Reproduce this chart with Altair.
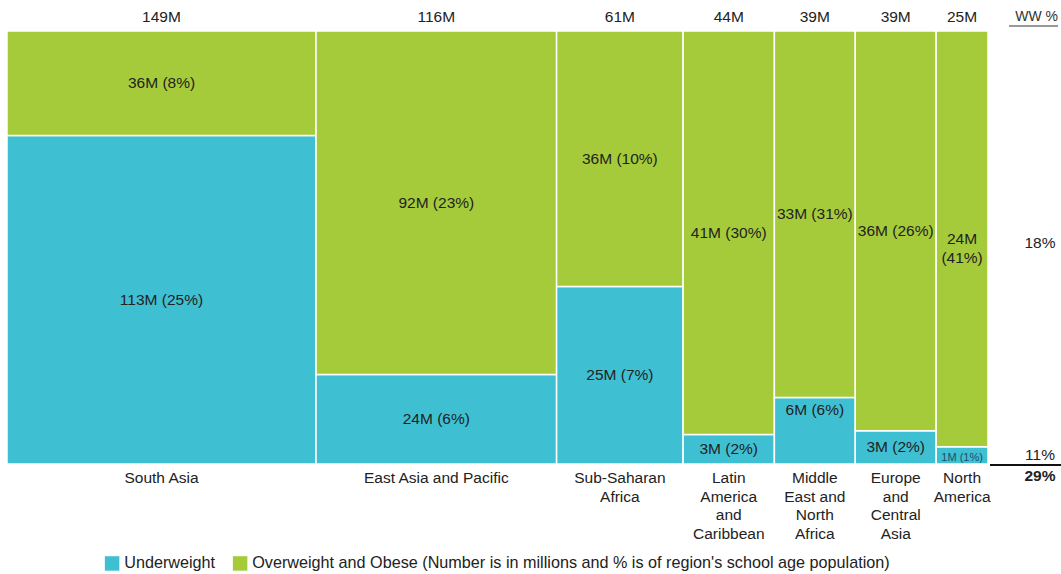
import altair as alt
import pandas as pd

regions = ["South Asia", "East Asia and Pacific", "Sub-Saharan Africa",
           "Latin America and Caribbean", "Middle East and North Africa",
           "Europe and Central Asia", "North America"]
region_labels = ["South Asia", "East Asia and Pacific", "Sub-Saharan\nAfrica",
                 "Latin\nAmerica\nand\nCaribbean", "Middle\nEast and\nNorth\nAfrica",
                 "Europe\nand\nCentral\nAsia", "North\nAmerica"]
underweight = [113, 24, 25, 3, 6, 3, 1]
overweight = [36, 92, 36, 41, 33, 36, 24]
under_pct = [25, 6, 7, 2, 6, 2, 1]
over_pct = [8, 23, 10, 30, 31, 26, 41]
ww_header = ["WW %"]
ww_labels = ["18%", "11%"]
ww_total = ["29%"]

types = ["Underweight", "Overweight and Obese"]
legend_long = "Overweight and Obese (Number is in millions and % is of region's school age population)"

rows = []
cols = []
x0 = 0
for i, r in enumerate(regions):
    tot = underweight[i] + overweight[i]
    x1 = x0 + tot
    fu = underweight[i] / tot
    cols.append(dict(region=r, label=region_labels[i], total=f"{tot}M",
                     x0=x0, x1=x1, xm=(x0 + x1) / 2))
    rows.append(dict(region=r, type=types[0], x0=x0, x1=x1, xm=(x0 + x1) / 2,
                     y0=0, y1=fu, ym=fu / 2,
                     text=f"{underweight[i]}M ({under_pct[i]}%)"))
    otext = f"{overweight[i]}M ({over_pct[i]}%)"
    if r == "North America":
        otext = f"{overweight[i]}M\n({over_pct[i]}%)"
    rows.append(dict(region=r, type=types[1], x0=x0, x1=x1, xm=(x0 + x1) / 2,
                     y0=fu, y1=1, ym=(fu + 1) / 2, text=otext))
    x0 = x1

seg = pd.DataFrame(rows)
col = pd.DataFrame(cols)
total_all = x0

xs = alt.Scale(domain=[0, total_all], nice=False, zero=True)
ys = alt.Scale(domain=[0, 1], nice=False)
font = "Liberation Sans"
tc = "#222222"
fs = 15.5

rects = alt.Chart(seg).mark_rect(stroke="white", strokeWidth=1.5).encode(
    x=alt.X("x0:Q", scale=xs, axis=None),
    x2="x1:Q",
    y=alt.Y("y0:Q", scale=ys, axis=None),
    y2="y1:Q",
    color=alt.Color("type:N",
                    scale=alt.Scale(domain=types, range=["#3FC0D2", "#A6CB3A"]),
                    legend=alt.Legend(
                        title=None, orient="none", direction="horizontal",
                        legendX=97, legendY=524, symbolType="square",
                        symbolSize=210, symbolStrokeWidth=0, labelFontSize=16.2,
                        labelFont=font, labelColor=tc, labelLimit=900,
                        columnPadding=16, symbolOffset=0, labelOffset=4,
                        labelExpr=f"datum.label == 'Overweight and Obese' ? \"{legend_long}\" : datum.label")),
)

normal = seg[~((seg.region == "Middle East and North Africa") & (seg.type == "Underweight"))
             & ~((seg.region == "North America") & (seg.type == "Underweight"))]
seg_labels = alt.Chart(normal).mark_text(font=font, fontSize=fs, color=tc,
                                         lineBreak="\n", lineHeight=19).encode(
    x=alt.X("xm:Q", scale=xs), y=alt.Y("ym:Q", scale=ys), text="text:N")

mena = seg[(seg.region == "Middle East and North Africa") & (seg.type == "Underweight")]
mena_label = alt.Chart(mena).mark_text(font=font, fontSize=fs, color=tc, dy=-21).encode(
    x=alt.X("xm:Q", scale=xs), y=alt.Y("ym:Q", scale=ys), text="text:N")

na = seg[(seg.region == "North America") & (seg.type == "Underweight")]
na_label = alt.Chart(na).mark_text(font=font, fontSize=11, color="#1d4f66", dy=3).encode(
    x=alt.X("xm:Q", scale=xs), y=alt.Y("ym:Q", scale=ys), text="text:N")

top_labels = alt.Chart(col).mark_text(font=font, fontSize=fs, color=tc).encode(
    x=alt.X("xm:Q", scale=xs), y=alt.value(-14), text="total:N")

bottom_labels = alt.Chart(col).mark_text(font=font, fontSize=fs, color=tc, baseline="top",
                                         lineBreak="\n", lineHeight=18.7).encode(
    x=alt.X("xm:Q", scale=xs), y=alt.value(440), text="label:N")

ww_head = alt.Chart(pd.DataFrame(dict(t=ww_header))).mark_text(
    font=font, fontSize=14, color="#333", align="right").encode(
    x=alt.value(1051), y=alt.value(-14), text="t:N")
ww = pd.DataFrame(dict(t=ww_labels, y=[212, 424]))
ww_text = alt.Chart(ww).mark_text(font=font, fontSize=fs, color=tc).encode(
    x=alt.value(1033), y=alt.Y("y:Q", scale=None), text="t:N")
ww_bold = alt.Chart(pd.DataFrame(dict(t=ww_total))).mark_text(
    font=font, fontSize=fs, color=tc, fontWeight="bold").encode(
    x=alt.value(1033), y=alt.value(445), text="t:N")

underline = alt.Chart(pd.DataFrame({"a": [0]})).mark_rule(color="#333", strokeWidth=1).encode(
    x=alt.value(1002), x2=alt.value(1051), y=alt.value(-5))
baseline = alt.Chart(pd.DataFrame({"a": [0]})).mark_rule(color="#111", strokeWidth=2).encode(
    x=alt.value(983), x2=alt.value(1054), y=alt.value(434))

chart = alt.layer(rects, seg_labels, mena_label, na_label, top_labels, bottom_labels,
                  ww_head, ww_text, ww_bold, underline, baseline).properties(
    width=981, height=433,
    autosize=alt.AutoSizeParams(type="none"),
    padding={"left": 7, "top": 31, "right": 73, "bottom": 110},
    background="white",
).configure_view(stroke=None)

chart.save("out.html", embed_options={"renderer": "svg", "actions": False})
